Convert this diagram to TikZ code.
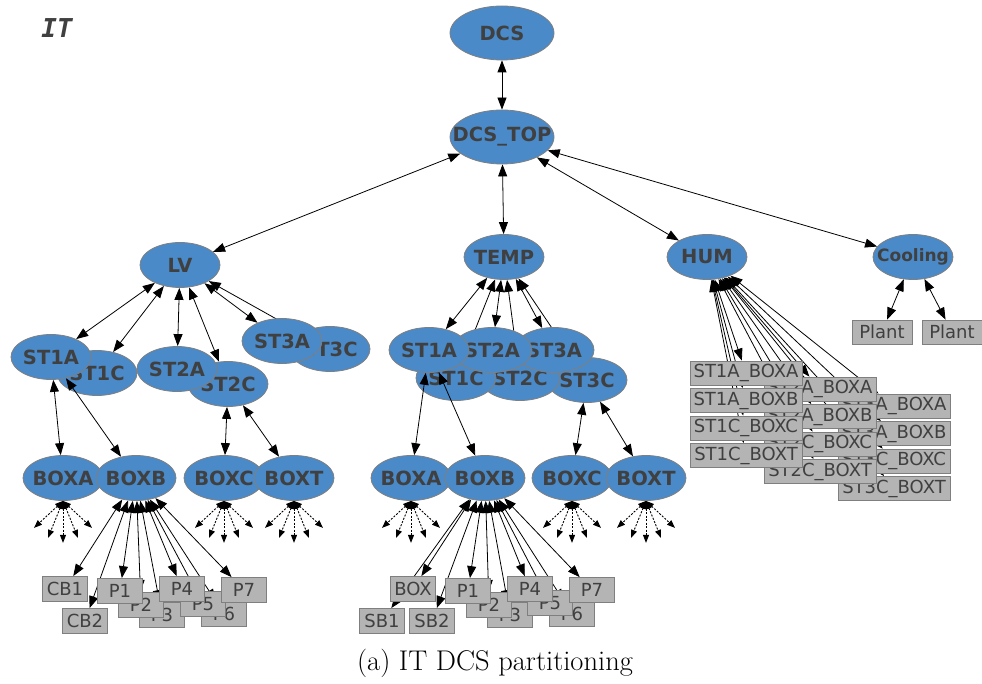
\documentclass[tikz,border=0pt]{standalone}
\usepackage{fontspec}
\newfontfamily\dcsfont{DejaVu Sans}
\newfontfamily\dcsmono{DejaVu Sans Mono}
\usepackage{xcolor}
\usepackage{tikz}
\usetikzlibrary{shapes.geometric, arrows.meta, backgrounds}

\definecolor{nodeblue}{HTML}{4A8AC9}
\definecolor{rimgray}{HTML}{7F7F7F}
\definecolor{boxgray}{HTML}{B4B4B4}
\definecolor{inkgray}{HTML}{404040}

% zero-width label, so the ellipse keeps its set size
\newcommand{\zw}[1]{\makebox[0pt]{#1}}

\begin{document}
\begin{tikzpicture}[
    x=1pt, y=-1pt,
    grp/.style={ellipse, draw=rimgray, fill=nodeblue, line width=0.8pt, inner sep=0pt, minimum width=80pt, minimum height=45pt, text=inkgray, font=\dcsfont\bfseries\fontsize{19.5}{21}\selectfont},
    topgrp/.style={grp, minimum width=104pt, minimum height=54pt},
    sig/.style={rectangle, draw=rimgray, fill=boxgray, line width=0.8pt, inner sep=0pt, minimum width=45pt, minimum height=25pt, text=inkgray, font=\dcsfont\fontsize{18}{20}\selectfont},
    sigwide/.style={sig, minimum width=112pt, minimum height=24pt},
    plant/.style={sig, minimum width=60pt, minimum height=24pt},
    arrow/.style={<->, >={Triangle[length=12pt, width=9pt]}, line width=0.8pt},
    fan/.style={<->, >={Triangle[length=8pt, width=6pt]}, dashed, dash pattern=on 2pt off 1.5pt, line width=0.9pt}
]
\useasboundingbox (0,0) rectangle (982,684);

\node[font=\dcsmono\bfseries\itshape\fontsize{26}{28}\selectfont, text=inkgray] (it) at (57,28) {IT};

% top of the tree
\node[topgrp] (dcs) at (502,33) {\zw{DCS}};
\node[topgrp] (dcstop) at (502,137) {\zw{DCS\_TOP}};
\node[grp] (lv) at (180,265) {\zw{LV}};
\node[grp] (temp) at (504,257) {\zw{TEMP}};
\node[grp] (hum) at (707,257) {\zw{HUM}};
\node[grp, font=\dcsfont\bfseries\fontsize{17}{19}\selectfont] (cool) at (913,257) {\zw{Cooling}};

\draw[arrow] (dcs) -- (dcstop);
\foreach \t in {lv, temp, hum, cool}
  \draw[arrow] (dcstop) -- (\t);

% LV stations
\node[grp] (lvst1c) at (97,373) {\zw{ST1C}};
\node[grp] (lvst1a) at (51,357) {\zw{ST1A}};
\node[grp] (lvst2c) at (228,384) {\zw{ST2C}};
\node[grp] (lvst2a) at (177,369) {\zw{ST2A}};
\node[grp] (lvst3c) at (330,349) {\zw{ST3C}};
\node[grp] (lvst3a) at (282,341) {\zw{ST3A}};

% TEMP stations
\node[grp] (tpst3c) at (587,380) {\zw{ST3C}};
\node[grp] (tpst2c) at (520,378) {\zw{ST2C}};
\node[grp] (tpst1c) at (456,378) {\zw{ST1C}};
\node[grp] (tpst3a) at (554,350) {\zw{ST3A}};
\node[grp] (tpst2a) at (492,350) {\zw{ST2A}};
\node[grp] (tpst1a) at (429,350) {\zw{ST1A}};

\begin{scope}[on background layer]
  \foreach \s in {1a, 1c, 2a, 2c, 3a, 3c} {
    \draw[arrow] (lv) -- (lvst\s);
    \draw[arrow] (temp) -- (tpst\s);
  }
\end{scope}

% crates
\node[grp] (lvboxa) at (63,478) {\zw{BOXA}};
\node[grp] (lvboxb) at (136,478) {\zw{BOXB}};
\node[grp] (lvboxc) at (224,478) {\zw{BOXC}};
\node[grp] (lvboxt) at (294,478) {\zw{BOXT}};
\node[grp] (tpboxa) at (411,478) {\zw{BOXA}};
\node[grp] (tpboxb) at (485,478) {\zw{BOXB}};
\node[grp] (tpboxc) at (572,478) {\zw{BOXC}};
\node[grp] (tpboxt) at (646,478) {\zw{BOXT}};

\draw[arrow] (lvst1a) -- (lvboxa);
\draw[arrow] (lvst1a) -- (lvboxb);
\draw[arrow] (lvst2c) -- (lvboxc);
\draw[arrow] (lvst2c) -- (lvboxt);
\draw[arrow] (tpst1a) -- (tpboxa);
\draw[arrow] (tpst1a) -- (tpboxb);
\draw[arrow] (tpst3c) -- (tpboxc);
\draw[arrow] (tpst3c) -- (tpboxt);

% unexpanded crates
\foreach \b in {lvboxa, lvboxc, lvboxt, tpboxa, tpboxc, tpboxt}
  \foreach \dx/\dy [count=\i] in {-29/27, -15/37, 0/42, 15/37, 29/27} {
    \coordinate (\b-end\i) at ([shift={(\dx,\dy)}]\b.south);
    \draw[fan] (\b.south) -- (\b-end\i);
  }

% LV BOXB channels
\node[sig] (lvcb2) at (85,621) {CB2};
\node[sig] (lvcb1) at (65,589) {CB1};
\node[sig] (lvp3) at (162,615) {P3};
\node[sig] (lvp2) at (141,605) {P2};
\node[sig] (lvp1) at (120,591) {P1};
\node[sig] (lvp6) at (224,614) {P6};
\node[sig] (lvp5) at (203,604) {P5};
\node[sig] (lvp4) at (182,589) {P4};
\node[sig] (lvp7) at (244,590) {P7};

% TEMP BOXB channels
\node[sig] (tpsb1) at (382,621) {SB1};
\node[sig] (tpsb2) at (432,621) {SB2};
\node[sig] (tpbox) at (413,589) {BOX};
\node[sig] (tpp3) at (510,615) {P3};
\node[sig] (tpp2) at (489,605) {P2};
\node[sig] (tpp1) at (468,591) {P1};
\node[sig] (tpp6) at (572,614) {P6};
\node[sig] (tpp5) at (550,603) {P5};
\node[sig] (tpp4) at (530,589) {P4};
\node[sig] (tpp7) at (592,590) {P7};

\begin{scope}[on background layer]
  \foreach \c in {cb1, cb2, p1, p2, p3, p4, p5, p6, p7}
    \draw[arrow] (lvboxb) -- (lv\c);
  \foreach \c in {box, sb1, sb2, p1, p2, p3, p4, p5, p6, p7}
    \draw[arrow] (tpboxb) -- (tp\c);
\end{scope}

% HUM sensors, one column per station
\foreach \c/\x/\y in {3/894/406, 2/820/389, 1/746/373}
  \foreach \s/\b [count=\r from 0] in {A/A, A/B, C/C, C/T}
    \node[sigwide] (hum-\c\s\b) at (\x,{\y+27.5*\r}) {ST\c\s\_BOX\b};

\begin{scope}[on background layer]
  \foreach \c in {1, 2, 3}
    \foreach \s/\b in {A/A, A/B, C/C, C/T}
      \draw[arrow] (hum) -- (hum-\c\s\b);
\end{scope}

% cooling
\node[plant] (plant1) at (882,332) {Plant};
\node[plant] (plant2) at (952,332) {Plant};
\draw[arrow] (cool) -- (plant1);
\draw[arrow] (cool) -- (plant2);

\node[font=\fontsize{28.5}{32}\selectfont] (caption) at (495,663) {(a) IT DCS partitioning};

\end{tikzpicture}
\end{document}
